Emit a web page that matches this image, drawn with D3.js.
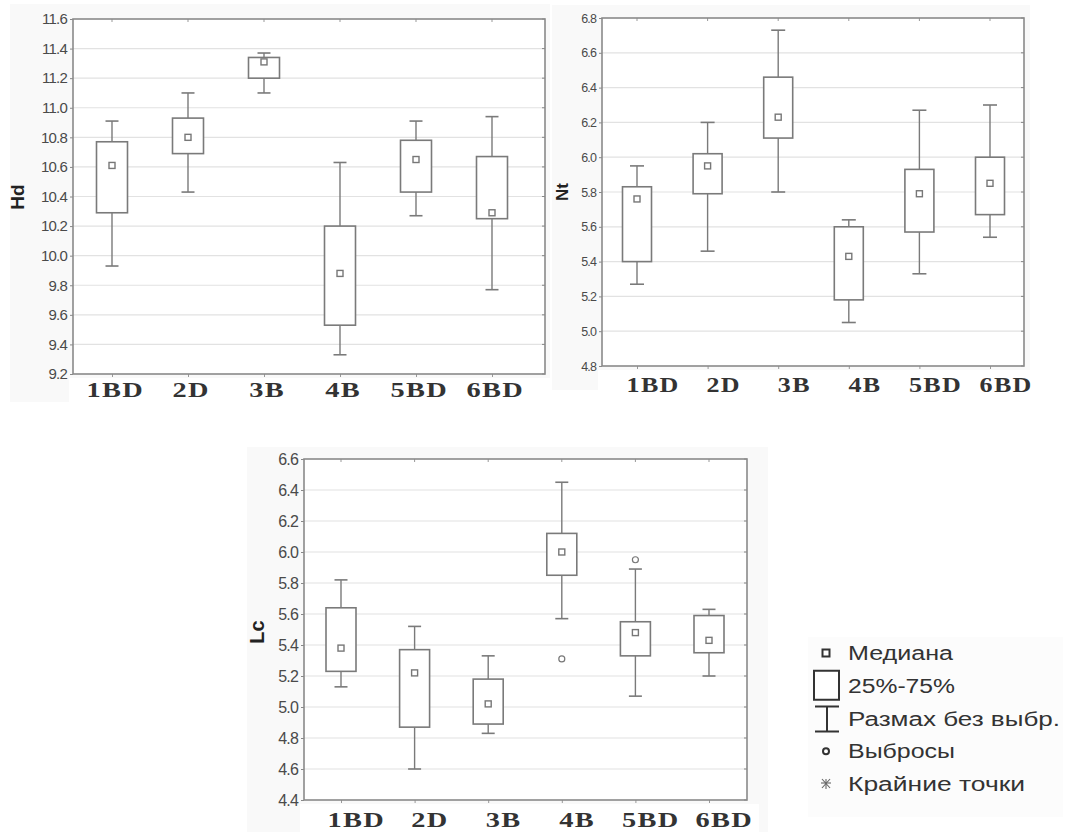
<!DOCTYPE html>
<html>
<head>
<meta charset="utf-8">
<script src="https://cdn.jsdelivr.net/npm/d3@7"></script>
<style>
  html, body { margin: 0; padding: 0; background: #ffffff; }
  svg { display: block; }
</style>
</head>
<body>
<svg id="chart" width="1067" height="832"></svg>
<script>
// ---------------- DATA ----------------
const categories = ["1BD", "2D", "3B", "4B", "5BD", "6BD"];

const hdMin = [9.93, 10.43, 11.10, 9.33, 10.27, 9.77];
const hdQ1  = [10.29, 10.69, 11.20, 9.53, 10.43, 10.25];
const hdMed = [10.61, 10.80, 11.31, 9.88, 10.65, 10.29];
const hdQ3  = [10.77, 10.93, 11.34, 10.20, 10.78, 10.67];
const hdMax = [10.91, 11.10, 11.37, 10.63, 10.91, 10.94];
const hdTicks = [9.2, 9.4, 9.6, 9.8, 10.0, 10.2, 10.4, 10.6, 10.8, 11.0, 11.2, 11.4, 11.6];

const ntMin = [5.27, 5.46, 5.80, 5.05, 5.33, 5.54];
const ntQ1  = [5.40, 5.79, 6.11, 5.18, 5.57, 5.67];
const ntMed = [5.76, 5.95, 6.23, 5.43, 5.79, 5.85];
const ntQ3  = [5.83, 6.02, 6.46, 5.60, 5.93, 6.00];
const ntMax = [5.95, 6.20, 6.73, 5.64, 6.27, 6.30];
const ntTicks = [4.8, 5.0, 5.2, 5.4, 5.6, 5.8, 6.0, 6.2, 6.4, 6.6, 6.8];

const lcMin = [5.13, 4.60, 4.83, 5.57, 5.07, 5.20];
const lcQ1  = [5.23, 4.87, 4.89, 5.85, 5.33, 5.35];
const lcMed = [5.38, 5.22, 5.02, 6.00, 5.48, 5.43];
const lcQ3  = [5.64, 5.37, 5.18, 6.12, 5.55, 5.59];
const lcMax = [5.82, 5.52, 5.33, 6.45, 5.89, 5.63];
const lcOutCat = ["4B", "5BD"];
const lcOutVal = [5.31, 5.95];
const lcTicks = [4.4, 4.6, 4.8, 5.0, 5.2, 5.4, 5.6, 5.8, 6.0, 6.2, 6.4, 6.6];

const legendLabels = ["Медиана", "25%-75%", "Размах без выбр.", "Выбросы", "Крайние точки"];

// ---------------- DRAW ----------------
const svg = d3.select("#chart");

function panel(cfg) {
  const g = svg.append("g");
  // panel background
  g.append("rect").attr("x", cfg.bg[0]).attr("y", cfg.bg[1])
    .attr("width", cfg.bg[2]).attr("height", cfg.bg[3]).attr("fill", "#f9f9f9");
  g.append("rect").attr("x", cfg.left - 4).attr("y", cfg.bottom + 4)
    .attr("width", cfg.right - cfg.left + 16).attr("height", cfg.labStrip)
    .attr("fill", "#ffffff");
  g.append("rect").attr("x", cfg.left).attr("y", cfg.top)
    .attr("width", cfg.right - cfg.left).attr("height", cfg.bottom - cfg.top)
    .attr("fill", "#ffffff");

  const x = d3.scalePoint().domain(categories).range(cfg.xr);
  const y = d3.scaleLinear().domain([cfg.ticks[0], cfg.ticks[cfg.ticks.length - 1]])
    .range([cfg.bottom, cfg.top]);

  // gridlines
  g.append("g").selectAll("line").data(cfg.ticks.slice(1, -1)).join("line")
    .attr("x1", cfg.left).attr("x2", cfg.right)
    .attr("y1", d => y(d)).attr("y2", d => y(d))
    .attr("stroke", "#e2e2e2").attr("stroke-width", 1.2);

  // Y axis
  const yAxis = d3.axisLeft(y).tickValues(cfg.ticks).tickFormat(d3.format(".1f"))
    .tickSize(3).tickPadding(3);
  const ya = g.append("g").attr("transform", `translate(${cfg.left},0)`).call(yAxis);
  ya.select(".domain").remove();
  ya.selectAll("line").attr("stroke", "#888");
  ya.selectAll("text").attr("font-family", "Liberation Sans, Arial, sans-serif")
    .attr("font-size", cfg.yfs).attr("fill", "#4a4a4a").attr("letter-spacing", cfg.yls);

  // right inward ticks
  g.append("g").selectAll("line").data(cfg.ticks).join("line")
    .attr("x1", cfg.right - 3).attr("x2", cfg.right)
    .attr("y1", d => y(d)).attr("y2", d => y(d)).attr("stroke", "#888");

  // X axis (bottom)
  const xAxis = d3.axisBottom(x).tickSize(3).tickPadding(cfg.xpad);
  const xa = g.append("g").attr("transform", `translate(0,${cfg.bottom})`).call(xAxis);
  xa.select(".domain").remove();
  xa.selectAll("line").attr("stroke", "#999");
  xa.selectAll("text").attr("font-family", "Liberation Serif, Times New Roman, serif")
    .attr("font-weight", "bold").attr("font-size", cfg.xfs).attr("fill", "#333")
    .attr("letter-spacing", cfg.xls).attr("dx", cfg.xdx)
    .attr("transform", `scale(${cfg.xsc},1)`);

  // top inward ticks
  g.append("g").selectAll("line").data(categories).join("line")
    .attr("x1", d => x(d)).attr("x2", d => x(d))
    .attr("y1", cfg.top).attr("y2", cfg.top + 3).attr("stroke", "#999");

  // frame
  g.append("rect").attr("x", cfg.left).attr("y", cfg.top)
    .attr("width", cfg.right - cfg.left).attr("height", cfg.bottom - cfg.top)
    .attr("fill", "none").attr("stroke", "#8a8a8a").attr("stroke-width", 1.6);

  // boxes
  const rows = categories.map((c, i) => ({ c, mn: cfg.mn[i], q1: cfg.q1[i], md: cfg.md[i], q3: cfg.q3[i], mx: cfg.mx[i] }));
  const bw = cfg.bw, cw = cfg.cw;
  const bx = g.append("g").selectAll("g").data(rows).join("g");
  const st = "#7a7a7a";
  bx.append("line").attr("x1", d => x(d.c)).attr("x2", d => x(d.c))
    .attr("y1", d => y(d.mx)).attr("y2", d => y(d.q3)).attr("stroke", st).attr("stroke-width", 1.4);
  bx.append("line").attr("x1", d => x(d.c)).attr("x2", d => x(d.c))
    .attr("y1", d => y(d.q1)).attr("y2", d => y(d.mn)).attr("stroke", st).attr("stroke-width", 1.4);
  bx.append("line").attr("x1", d => x(d.c) - cw / 2).attr("x2", d => x(d.c) + cw / 2)
    .attr("y1", d => y(d.mx)).attr("y2", d => y(d.mx)).attr("stroke", st).attr("stroke-width", 1.6);
  bx.append("line").attr("x1", d => x(d.c) - cw / 2).attr("x2", d => x(d.c) + cw / 2)
    .attr("y1", d => y(d.mn)).attr("y2", d => y(d.mn)).attr("stroke", st).attr("stroke-width", 1.6);
  bx.append("rect").attr("x", d => x(d.c) - bw / 2).attr("width", bw)
    .attr("y", d => y(d.q3)).attr("height", d => y(d.q1) - y(d.q3))
    .attr("fill", "#ffffff").attr("stroke", st).attr("stroke-width", 1.6);
  bx.append("rect").attr("x", d => x(d.c) - 3).attr("y", d => y(d.md) - 3)
    .attr("width", 6).attr("height", 6)
    .attr("fill", "#ffffff").attr("stroke", "#777").attr("stroke-width", 1.4);

  if (cfg.oc) {
    g.append("g").selectAll("circle").data(cfg.oc.map((c, i) => ({ c, v: cfg.ov[i] }))).join("circle")
      .attr("cx", d => x(d.c)).attr("cy", d => y(d.v)).attr("r", 3)
      .attr("fill", "#fff").attr("stroke", "#777").attr("stroke-width", 1.2);
  }

  // Y title
  g.append("text").attr("transform", `translate(${cfg.lab[0]},${cfg.lab[1]}) rotate(-90)`)
    .attr("text-anchor", "middle").attr("dy", "0.35em")
    .attr("font-family", "Liberation Sans, Arial, sans-serif").attr("font-weight", "bold")
    .attr("font-size", cfg.labfs).attr("fill", "#222").text(cfg.title);
}

panel({
  title: "Hd", ticks: hdTicks, mn: hdMin, q1: hdQ1, md: hdMed, q3: hdQ3, mx: hdMax,
  left: 73, right: 545, top: 19, bottom: 374, xr: [112, 492],
  bw: 31, cw: 13, yfs: 15, yls: -0.8, xfs: 21, xls: 1, xsc: 1.35, xdx: 2, xpad: 5,
  lab: [17, 197], labfs: 19, bg: [10, 4, 540, 398], labStrip: 26
});

panel({
  title: "Nt", ticks: ntTicks, mn: ntMin, q1: ntQ1, md: ntMed, q3: ntQ3, mx: ntMax,
  left: 602, right: 1024, top: 18, bottom: 366, xr: [637, 990],
  bw: 29, cw: 14, yfs: 12.5, yls: -0.9, xfs: 20, xls: 1, xsc: 1.3, xdx: 12, xpad: 9,
  lab: [562, 192], labfs: 17, bg: [552, 5, 478, 385], labStrip: 26
});

panel({
  title: "Lc", ticks: lcTicks, mn: lcMin, q1: lcQ1, md: lcMed, q3: lcQ3, mx: lcMax,
  oc: lcOutCat, ov: lcOutVal,
  left: 304, right: 747, top: 459, bottom: 800, xr: [341, 709],
  bw: 30, cw: 13, yfs: 16, yls: -0.8, xfs: 21, xls: 1, xsc: 1.35, xdx: 11, xpad: 9,
  lab: [257, 632], labfs: 20, bg: [247, 447, 521, 385], labStrip: 32
});

// ---------------- LEGEND ----------------
const lg = svg.append("g");
lg.append("rect").attr("x", 808).attr("y", 637).attr("width", 255).attr("height", 180).attr("fill", "#fcfcfc");
const ly = d3.scalePoint().domain(legendLabels).range([653, 784]);
const lens = [105, 107, 212, 107, 177];
lg.selectAll("text").data(legendLabels).join("text")
  .attr("x", 848).attr("y", d => ly(d)).attr("dy", "0.36em")
  .attr("font-family", "Liberation Sans, Arial, sans-serif").attr("font-size", 20)
  .attr("fill", "#333")
  .attr("textLength", (d, i) => lens[i]).attr("lengthAdjust", "spacingAndGlyphs")
  .text(d => d);
const sx = 826;
// median symbol
lg.append("rect").attr("x", sx - 3.5).attr("y", ly(legendLabels[0]) - 3.5)
  .attr("width", 7).attr("height", 7).attr("fill", "#fff").attr("stroke", "#333").attr("stroke-width", 2);
// box symbol
lg.append("rect").attr("x", 814).attr("y", ly(legendLabels[1]) - 15)
  .attr("width", 25).attr("height", 29).attr("fill", "#fff").attr("stroke", "#333").attr("stroke-width", 2);
// whisker symbol
const wy = ly(legendLabels[2]);
lg.append("line").attr("x1", 815).attr("x2", 839).attr("y1", wy - 12).attr("y2", wy - 12).attr("stroke", "#333").attr("stroke-width", 2);
lg.append("line").attr("x1", 815).attr("x2", 839).attr("y1", wy + 13).attr("y2", wy + 13).attr("stroke", "#333").attr("stroke-width", 2);
lg.append("line").attr("x1", 827).attr("x2", 827).attr("y1", wy - 12).attr("y2", wy + 13).attr("stroke", "#333").attr("stroke-width", 2);
// outlier symbol
lg.append("circle").attr("cx", sx).attr("cy", ly(legendLabels[3])).attr("r", 3)
  .attr("fill", "#fff").attr("stroke", "#333").attr("stroke-width", 2);
// extreme symbol
const ey = ly(legendLabels[4]);
const star = lg.append("g").attr("stroke", "#666").attr("stroke-width", 1.1);
star.append("line").attr("x1", sx - 5).attr("x2", sx + 5).attr("y1", ey - 1).attr("y2", ey - 1);
star.append("line").attr("x1", sx).attr("x2", sx).attr("y1", ey - 5).attr("y2", ey + 5);
star.append("line").attr("x1", sx - 4).attr("x2", sx + 4).attr("y1", ey - 5).attr("y2", ey + 4);
star.append("line").attr("x1", sx + 4).attr("x2", sx - 4).attr("y1", ey - 5).attr("y2", ey + 4);
</script>
</body>
</html>
